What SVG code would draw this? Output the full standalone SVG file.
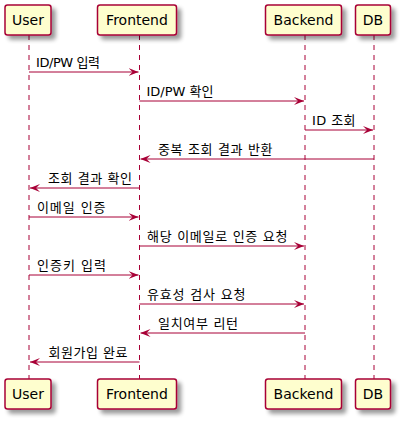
<svg xmlns="http://www.w3.org/2000/svg" width="403" height="423" viewBox="0 0 403 423">
<defs>
<filter id="sh" x="-20%" y="-20%" width="150%" height="160%">
<feGaussianBlur in="SourceAlpha" stdDeviation="2"/>
<feOffset dx="4" dy="4" result="b"/>
<feComponentTransfer><feFuncA type="linear" slope="0.4"/></feComponentTransfer>
<feMerge><feMergeNode/><feMergeNode in="SourceGraphic"/></feMerge>
</filter>
<marker id="ah" viewBox="0 0 10 8" refX="10" refY="4" markerWidth="10" markerHeight="8" markerUnits="userSpaceOnUse" orient="auto">
<polygon points="0,0 10,4 0,8 4,4" fill="#A80036"/>
</marker>
</defs>
<style>
.box{fill:#FEFECE;stroke:#A80036;stroke-width:1.5;filter:url(#sh)}
.pt{font-family:"DejaVu Sans","Noto Sans CJK KR",sans-serif;font-size:14px;fill:#000}
.life{stroke:#A80036;stroke-width:1;stroke-dasharray:5,5}
.msg{stroke:#A80036;stroke-width:1;marker-end:url(#ah)}
.ml{font-family:"DejaVu Sans","Noto Sans CJK KR",sans-serif;font-size:13px;fill:#000}
</style>
<rect width="403" height="423" fill="#fff"/>
<g id="lifelines">
<line class="life" x1="29" y1="35" x2="29" y2="379"/>
<line class="life" x1="139.5" y1="35" x2="139.5" y2="379"/>
<line class="life" x1="305" y1="35" x2="305" y2="379"/>
<line class="life" x1="374" y1="35" x2="374" y2="379"/>
</g>
<g id="User">
<rect class="box" x="5" y="5" width="46" height="30" rx="2.5"/>
<text class="pt" x="28" y="25" text-anchor="middle">User</text>
<rect class="box" x="5" y="379" width="46" height="30" rx="2.5"/>
<text class="pt" x="28" y="399" text-anchor="middle">User</text>
</g>
<g id="Frontend">
<rect class="box" x="97.5" y="5" width="79" height="30" rx="2.5"/>
<text class="pt" x="137" y="25" text-anchor="middle">Frontend</text>
<rect class="box" x="97.5" y="379" width="79" height="30" rx="2.5"/>
<text class="pt" x="137" y="399" text-anchor="middle">Frontend</text>
</g>
<g id="Backend">
<rect class="box" x="265.5" y="5" width="76" height="30" rx="2.5"/>
<text class="pt" x="303.5" y="25" text-anchor="middle">Backend</text>
<rect class="box" x="265.5" y="379" width="76" height="30" rx="2.5"/>
<text class="pt" x="303.5" y="399" text-anchor="middle">Backend</text>
</g>
<g id="DB">
<rect class="box" x="355.5" y="5" width="35" height="30" rx="2.5"/>
<text class="pt" x="373" y="25" text-anchor="middle">DB</text>
<rect class="box" x="355.5" y="379" width="35" height="30" rx="2.5"/>
<text class="pt" x="373" y="399" text-anchor="middle">DB</text>
</g>
<g id="connectors">
<line class="msg" x1="29" y1="72" x2="138.5" y2="72"/>
<text class="ml" x="36" y="66.5" textLength="64" lengthAdjust="spacing">ID/PW 입력</text>
<line class="msg" x1="139.5" y1="101" x2="304" y2="101"/>
<text class="ml" x="146.5" y="95.5" textLength="67" lengthAdjust="spacing">ID/PW 확인</text>
<line class="msg" x1="305" y1="130" x2="373" y2="130"/>
<text class="ml" x="312" y="124.5" textLength="43.5" lengthAdjust="spacing">ID 조회</text>
<line class="msg" x1="374" y1="159" x2="140.5" y2="159"/>
<text class="ml" x="158" y="153.5" textLength="114.5" lengthAdjust="spacing">중복 조회 결과 반환</text>
<line class="msg" x1="139.5" y1="188" x2="30" y2="188"/>
<text class="ml" x="48" y="182.5" textLength="84" lengthAdjust="spacing">조회 결과 확인</text>
<line class="msg" x1="29" y1="217" x2="138.5" y2="217"/>
<text class="ml" x="37" y="211.5" textLength="68.5" lengthAdjust="spacing">이메일 인증</text>
<line class="msg" x1="139.5" y1="246" x2="304" y2="246"/>
<text class="ml" x="147" y="240.5" textLength="140.5" lengthAdjust="spacing">해당 이메일로 인증 요청</text>
<line class="msg" x1="29" y1="275" x2="138.5" y2="275"/>
<text class="ml" x="37" y="269.5" textLength="69" lengthAdjust="spacing">인증키 입력</text>
<line class="msg" x1="139.5" y1="304" x2="304" y2="304"/>
<text class="ml" x="147" y="298.5" textLength="98.5" lengthAdjust="spacing">유효성 검사 요청</text>
<line class="msg" x1="305" y1="333" x2="140.5" y2="333"/>
<text class="ml" x="158" y="327.5" textLength="80" lengthAdjust="spacing">일치여부 리턴</text>
<line class="msg" x1="139.5" y1="362" x2="30" y2="362"/>
<text class="ml" x="48.5" y="356.5" textLength="79" lengthAdjust="spacing">회원가입 완료</text>
</g>
</svg>
